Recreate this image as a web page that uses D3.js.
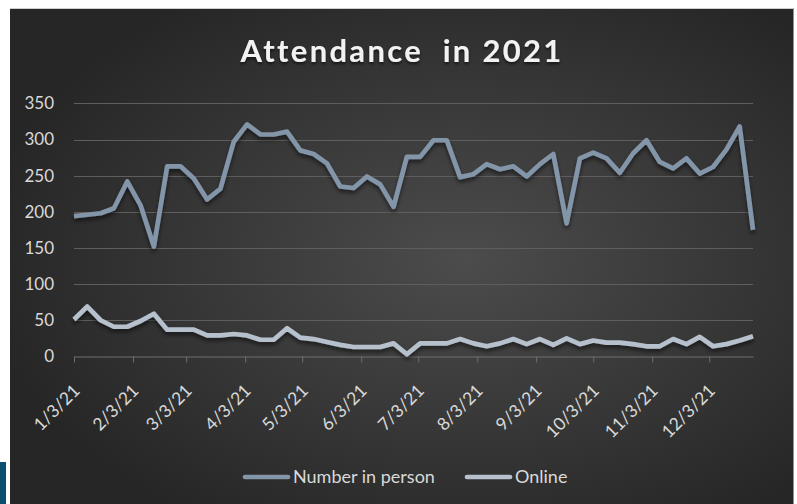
<!DOCTYPE html>
<html>
<head>
<meta charset="utf-8">
<script src="https://cdn.jsdelivr.net/npm/d3@7"></script>
<style>
  html, body { margin: 0; padding: 0; background: #fff; }
  svg { display: block; font-family: Lato, "Open Sans", sans-serif; }
</style>
</head>
<body>
<div id="content"></div>
<script>
// weekly dates (Sundays) of 2021
const dates = [
  "2021-01-03","2021-01-10","2021-01-17","2021-01-24","2021-01-31",
  "2021-02-07","2021-02-14","2021-02-21","2021-02-28",
  "2021-03-07","2021-03-14","2021-03-21","2021-03-28",
  "2021-04-04","2021-04-11","2021-04-18","2021-04-25",
  "2021-05-02","2021-05-09","2021-05-16","2021-05-23","2021-05-30",
  "2021-06-06","2021-06-13","2021-06-20","2021-06-27",
  "2021-07-04","2021-07-11","2021-07-18","2021-07-25",
  "2021-08-01","2021-08-08","2021-08-15","2021-08-22","2021-08-29",
  "2021-09-05","2021-09-12","2021-09-19","2021-09-26",
  "2021-10-03","2021-10-10","2021-10-17","2021-10-24","2021-10-31",
  "2021-11-07","2021-11-14","2021-11-21","2021-11-28",
  "2021-12-05","2021-12-12","2021-12-19","2021-12-26"
];

const inPerson = [
  194, 196, 198, 205, 242, 209, 152, 263, 263, 246, 217, 232, 297,
  321, 307, 307, 311, 285, 280, 267, 235, 233, 249, 238, 207, 276,
  276, 299, 299, 248, 252, 266, 259, 263, 249, 266, 280, 184, 274,
  282, 274, 254, 281, 299, 269, 260, 274, 253, 262, 286, 318, 175
];

const online = [
  51, 69, 50, 41, 41, 49, 59, 37, 37, 37, 29, 29, 31,
  29, 23, 23, 39, 26, 24, 20, 16, 13, 13, 13, 18, 3,
  18, 18, 18, 24, 18, 14, 18, 24, 17, 24, 16, 25, 17,
  22, 19, 19, 17, 14, 14, 24, 17, 27, 14, 17, 22, 28
];

const seriesNames = ["Number in person", "Online"];
const seriesColors = ["#8395a9", "#b6c1cd"];

const xTickLabels = ["1/3/21","2/3/21","3/3/21","4/3/21","5/3/21","6/3/21",
  "7/3/21","8/3/21","9/3/21","10/3/21","11/3/21","12/3/21"];
const yTicks = [0, 50, 100, 150, 200, 250, 300, 350];

const title = "Attendance  in 2021";

const width = 797, height = 504;
const parseDay = d3.timeParse("%Y-%m-%d");
const parseTick = d3.timeParse("%m/%d/%y");
const days = dates.map(parseDay);

const svg = d3.select("#content").append("svg")
    .attr("width", width).attr("height", height);

const defs = svg.append("defs");
const grad = defs.append("radialGradient").attr("id", "bg")
    .attr("cx", "58%").attr("cy", "50%").attr("r", "62%");
grad.append("stop").attr("offset", "0%").attr("stop-color", "#4c4c4c");
grad.append("stop").attr("offset", "100%").attr("stop-color", "#262626");

const shadow = defs.append("filter").attr("id", "shadow")
    .attr("x", "-5%").attr("y", "-20%").attr("width", "110%").attr("height", "150%");
shadow.append("feDropShadow").attr("dx", 0).attr("dy", 3).attr("stdDeviation", 2)
    .attr("flood-color", "#000").attr("flood-opacity", 0.55);

const tshadow = defs.append("filter").attr("id", "tshadow");
tshadow.append("feDropShadow").attr("dx", 0).attr("dy", 2).attr("stdDeviation", 1.5)
    .attr("flood-color", "#000").attr("flood-opacity", 0.6);

// chart area
svg.append("rect").attr("x", 10).attr("y", 8).attr("width", 783.5).attr("height", 500)
    .attr("fill", "url(#bg)");
svg.append("line").attr("x1", 10).attr("x2", 793.5).attr("y1", 8.5).attr("y2", 8.5)
    .attr("stroke", "#cfcfcf");
// blue tab bottom-left
svg.append("rect").attr("x", 0).attr("y", 462).attr("width", 6).attr("height", 42)
    .attr("fill", "#0b4f6e");

const x = d3.scaleTime()
    .domain(d3.extent(days))
    .range([74, 753]);
const y = d3.scaleLinear()
    .domain([0, 350])
    .range([356.4, 103.4]);

// gridlines
svg.append("g").selectAll("line")
    .data(yTicks.filter(d => d > 0))
    .join("line")
    .attr("x1", x.range()[0]).attr("x2", x.range()[1])
    .attr("y1", d => Math.round(y(d)) + 0.5).attr("y2", d => Math.round(y(d)) + 0.5)
    .attr("stroke", "#5e5e5e").attr("stroke-width", 1);

// y axis labels
const yAxis = svg.append("g")
    .attr("transform", `translate(${x.range()[0]},0)`)
    .call(d3.axisLeft(y).tickValues(yTicks).tickSize(0).tickPadding(20));
yAxis.select(".domain").remove();
yAxis.selectAll("text")
    .attr("fill", "#d9d9d9").attr("font-size", 17).attr("font-family", "Lato, sans-serif");

// x axis
const xAxis = svg.append("g")
    .attr("transform", `translate(0,${Math.round(y(0)) + 0.5})`)
    .call(d3.axisBottom(x)
        .tickValues(xTickLabels.map(parseTick))
        .tickFormat(d3.timeFormat("%-m/%-d/%y"))
        .tickSizeOuter(0).tickSizeInner(6));
xAxis.select(".domain").attr("stroke", "#6e6e6e");
xAxis.selectAll(".tick line").attr("stroke", "#6e6e6e");
xAxis.selectAll("text")
    .attr("fill", "#d9d9d9").attr("font-size", 17.5).attr("font-family", "Lato, sans-serif")
    .attr("text-anchor", "end")
    .attr("y", 0).attr("dy", "0.35em")
    .attr("transform", "translate(2,31) rotate(-45)");

// lines
const line = d3.line()
    .x((d, i) => x(days[i]))
    .y(d => y(d));

[inPerson, online].forEach((vals, k) => {
  svg.append("path")
      .datum(vals)
      .attr("fill", "none")
      .attr("stroke", seriesColors[k])
      .attr("stroke-width", 4.7)
      .attr("stroke-linejoin", "round")
      .attr("filter", "url(#shadow)")
      .attr("d", line);
});

// title
svg.append("text")
    .attr("x", 402).attr("y", 62)
    .attr("text-anchor", "middle")
    .attr("font-size", 31).attr("font-weight", 700)
    .attr("letter-spacing", 2.3)
    .style("white-space", "pre")
    .attr("fill", "#f2f2f2")
    .attr("filter", "url(#tshadow)")
    .text(title);

// legend
const legend = svg.append("g");
const legX = [243, 465];
seriesNames.forEach((name, k) => {
  const g = legend.append("g").attr("transform", `translate(${legX[k]},477)`);
  g.append("line").attr("x1", 2).attr("x2", 45).attr("y1", 0).attr("y2", 0)
      .attr("stroke", seriesColors[k]).attr("stroke-width", 4.7)
      .attr("stroke-linecap", "round");
  g.append("text").attr("x", 50).attr("y", 0).attr("dy", "0.35em")
      .attr("font-size", 18).attr("fill", "#d9d9d9")
      .text(name);
});
</script>
</body>
</html>
